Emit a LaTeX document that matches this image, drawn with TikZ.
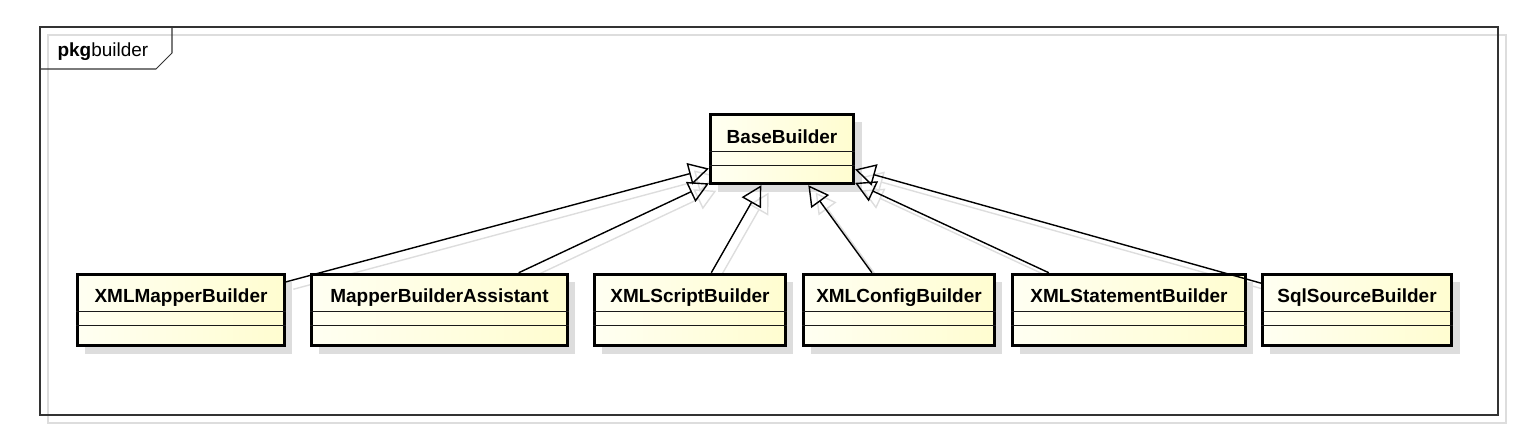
\documentclass[tikz,border=0pt]{standalone}
\usepackage{fontspec}
\setmainfont{Liberation Sans}
\usetikzlibrary{arrows.meta,shadows,backgrounds}
\definecolor{clsleft}{RGB}{255,255,242}
\definecolor{clsright}{RGB}{255,253,208}
\definecolor{shadowgray}{RGB}{221,221,221}

\begin{document}
\begin{tikzpicture}[x=0.02cm,y=-0.02cm,>={Triangle[open,length=11.5pt,width=12.5pt]},
                    semithick]
  \tikzstyle{every node}=[font=\fontsize{10.8}{13}\selectfont]
  \tikzstyle{cls}=[draw=black,line width=1.6pt,left color=clsleft,right color=clsright,
                   inner sep=0pt,text height=16.4pt,text depth=24.4pt,font=\fontsize{10.8}{13}\selectfont\bfseries,
                   drop shadow={shadow xshift=4.5pt,shadow yshift=-4.5pt,fill=shadowgray,opacity=1}]
  \tikzstyle{gen}=[->,draw=black,line width=0.8pt]
  \tikzstyle{genshadow}=[->,draw=shadowgray,line width=0.8pt,transform canvas={shift={(4.2pt,-4.2pt)}}]
  \useasboundingbox (0,0) rectangle (1524,442);

  % package frame
  \draw[shadowgray] (48,35) rectangle (1506,423);
  \draw[black!80] (40,27) rectangle (1498,415);
  \draw[black!80] (40,69) -- (156,69) -- (172,53) -- (172,27);
  \node[anchor=base west,inner sep=0pt] (pkg) at (57,57) {\textbf{pkg}builder};

  % classes
  \node[cls,minimum width=81.6pt,text depth=23.2pt] (base) at (782,149) {BaseBuilder};
  \node[cls,minimum width=117.9pt] (xmlmapper)  at (181,310)   {XMLMapperBuilder};
  \node[cls,minimum width=145.7pt] (assistant)  at (439.5,310) {MapperBuilderAssistant};
  \node[cls,minimum width=108.8pt] (xmlscript)  at (690,310)   {XMLScriptBuilder};
  \node[cls,minimum width=108.8pt] (xmlconfig)  at (899,310)   {XMLConfigBuilder};
  \node[cls,minimum width=132.7pt] (xmlstmt)    at (1129,310)  {XMLStatementBuilder};
  \node[cls,minimum width=107.7pt] (sqlsource)  at (1357,310)  {SqlSourceBuilder};

  \foreach \n in {base,xmlmapper,assistant,xmlscript,xmlconfig,xmlstmt,sqlsource}
  {
    \draw[black!90,line width=0.9pt] ([yshift=-22.1pt]\n.north west) -- ([yshift=-22.1pt]\n.north east);
    \draw[black!90,line width=0.9pt] ([yshift=-30.0pt]\n.north west) -- ([yshift=-30.0pt]\n.north east);
  }

  % generalizations
  \begin{pgfonlayer}{background}
  \path (xmlmapper) edge[genshadow] (base)
        (assistant) edge[genshadow] (base)
        (xmlscript) edge[genshadow] (base)
        (xmlconfig) edge[genshadow] (base)
        (xmlstmt)   edge[genshadow] (base)
        (sqlsource) edge[genshadow] (base);
  \end{pgfonlayer}
  \path (xmlmapper) edge[gen] (base)
        (assistant) edge[gen] (base)
        (xmlscript) edge[gen] (base)
        (xmlconfig) edge[gen] (base)
        (xmlstmt)   edge[gen] (base)
        (sqlsource) edge[gen] (base);
\end{tikzpicture}
\end{document}
